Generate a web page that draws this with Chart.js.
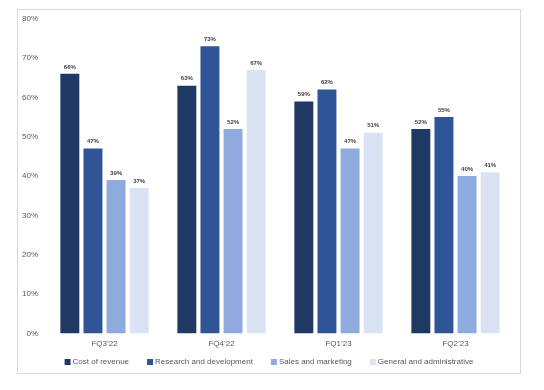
<!DOCTYPE html>
<html>
<head>
<meta charset="utf-8">
<script src="https://cdn.jsdelivr.net/npm/chart.js@4"></script>
<style>
    html, body { margin: 0; padding: 0; background: #fff; }
    #frame {
        position: absolute;
        left: 17px;
        top: 9px;
        width: 502px;
        height: 363px;
        border: 1px solid #d9d9d9;
    }
    #wrap {
        position: absolute;
        left: 18px;
        top: 6px;
        width: 502px;
        height: 367px;
    }
</style>
</head>
<body>
<div id="frame"></div>
<div id="wrap"><canvas id="chart"></canvas></div>
<script>
// Expense ratios by quarter
const quarters = ['FQ3\u201922', 'FQ4\u201922', 'FQ1\u201923', 'FQ2\u201923'];
const costOfRevenue = [66, 63, 59, 52];
const researchDev = [47, 73, 62, 55];
const salesMarketing = [39, 52, 47, 40];
const generalAdmin = [37, 67, 51, 41];

const FONT = '"Liberation Sans", Arial, sans-serif';
const TEXT_COLOR = '#595959';

// Small value labels above each bar
const barLabels = {
    id: 'barLabels',
    afterDatasetsDraw(chart) {
        const ctx = chart.ctx;
        ctx.save();
        ctx.font = 'bold 6px ' + FONT;
        ctx.fillStyle = '#404040';
        ctx.textAlign = 'center';
        ctx.textBaseline = 'bottom';
        chart.data.datasets.forEach((ds, i) => {
            chart.getDatasetMeta(i).data.forEach((bar, j) => {
                ctx.fillText(ds.data[j] + '%', bar.x, bar.y - 4);
            });
        });
        ctx.restore();
    }
};

// Legend drawn by hand so the gap between items can be wider than its height
const bottomLegend = {
    id: 'bottomLegend',
    afterDraw(chart) {
        const ctx = chart.ctx;
        const box = 6, gap = 2, spacing = 18;
        ctx.save();
        ctx.font = '8px ' + FONT;
        const items = chart.data.datasets.map(ds => ({
            label: ds.label,
            color: ds.backgroundColor,
            w: box + gap + ctx.measureText(ds.label).width
        }));
        const total = items.reduce((s, it) => s + it.w, 0) + spacing * (items.length - 1);
        let x = (chart.width - total) / 2;
        const y = chart.height - 11;
        ctx.textBaseline = 'middle';
        ctx.textAlign = 'left';
        items.forEach(it => {
            ctx.fillStyle = it.color;
            ctx.fillRect(x, y - box / 2, box, box);
            ctx.fillStyle = TEXT_COLOR;
            ctx.fillText(it.label, x + box + gap, y);
            x += it.w + spacing;
        });
        ctx.restore();
    }
};

new Chart(document.getElementById('chart'), {
    type: 'bar',
    data: {
        labels: quarters,
        datasets: [
            { label: 'Cost of revenue', data: costOfRevenue, backgroundColor: '#203864' },
            { label: 'Research and development', data: researchDev, backgroundColor: '#2f5597' },
            { label: 'Sales and marketing', data: salesMarketing, backgroundColor: '#8faadc' },
            { label: 'General and administrative', data: generalAdmin, backgroundColor: '#dae3f3' }
        ]
    },
    options: {
        animation: false,
        responsive: true,
        maintainAspectRatio: false,
        datasets: {
            bar: {
                categoryPercentage: 0.79,
                barPercentage: 0.82
            }
        },
        layout: {
            padding: { left: 3, right: 6, top: 0, bottom: 18 }
        },
        plugins: {
            legend: { display: false },
            tooltip: { enabled: false }
        },
        scales: {
            x: {
                grid: { display: false, drawTicks: false },
                border: { display: false },
                ticks: {
                    padding: 6,
                    color: TEXT_COLOR,
                    font: { family: FONT, size: 8 }
                }
            },
            y: {
                min: 0,
                max: 80,
                grid: { display: false, drawTicks: false },
                border: { display: false },
                afterFit: axis => { axis.width = 25; },
                ticks: {
                    stepSize: 10,
                    padding: 8,
                    color: TEXT_COLOR,
                    font: { family: FONT, size: 8 },
                    callback: v => v + '%'
                }
            }
        }
    },
    plugins: [barLabels, bottomLegend]
});
</script>
</body>
</html>
